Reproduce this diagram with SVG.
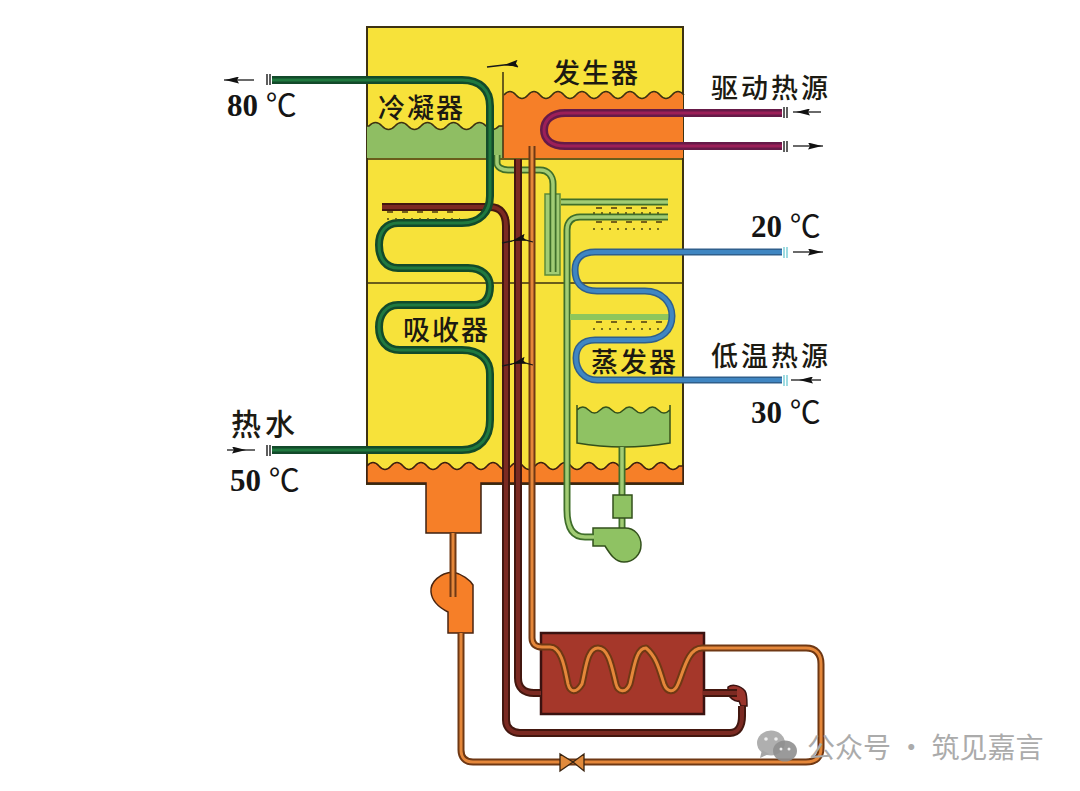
<svg xmlns="http://www.w3.org/2000/svg" xmlns:xlink="http://www.w3.org/1999/xlink" width="1080" height="791" viewBox="0 0 1080 791">
<style>
.lb{font-family:"Noto Sans CJK SC","Noto Sans",sans-serif;fill:#1c1a12;font-size:27px;font-weight:500;letter-spacing:2px}
.tm{font-family:"Liberation Serif","Noto Sans CJK SC",serif;fill:#151515;font-size:31px}
.tm .n{font-weight:700}
.wm{font-family:"Noto Sans CJK SC",sans-serif;fill:#ababab;font-size:28px}
.o,.i{fill:none;stroke-linecap:butt;stroke-linejoin:round}
.gO{stroke:#124a2a;stroke-width:8}.gI{stroke:#20793f;stroke-width:3}
.pO{stroke:#661a48;stroke-width:8}.pI{stroke:#9c1f58;stroke-width:3}
.bO{stroke:#2f5f8c;stroke-width:7}.bI{stroke:#3f86c2;stroke-width:4}
.rO{stroke:#43170f;stroke-width:8}.rI{stroke:#7b2a22;stroke-width:4}
.oO{stroke:#6f3814;stroke-width:7}.oI{stroke:#e5873a;stroke-width:3}
.lO{stroke:#3f6e2a;stroke-width:7}.lI{stroke:#a2cc74;stroke-width:3.5}
.ln{fill:none;stroke:#3d3212;stroke-width:1.500}
.tick{fill:none;stroke:#2a2a2a;stroke-width:1.5}
.flow{fill:none;stroke:#1a1a1a;stroke-width:1.3;marker-mid:url(#ah)}
.spray{fill:none;stroke:#4c4a16;stroke-width:1.6;stroke-dasharray:2 6}
.spray2{fill:none;stroke:#4c3a10;stroke-width:1.6;stroke-dasharray:6 9}
</style>
<defs>
<marker id="ah" viewBox="0 0 14 7" refX="14" refY="3.5" markerWidth="14" markerHeight="7" markerUnits="userSpaceOnUse" orient="auto"><path d="M0 0L14 3.500L0 7L2 3.500Z" fill="#111"/></marker>
<path id="pGreen" d="M272 80H462C480 80 490 90 490 106V196C490 212 480 223 462 223H398C386 223 379 232 379 245C379 259 386 268 398 268H468C482 268 490 276 490 286C490 297 486 305 474 305H398C386 305 379 315 379 327C379 340 386 350 400 350H462C480 350 490 360 490 374V420C490 438 480 450 462 450H272"/>
<path id="pPurple" d="M782 113H565C552 113 544 120 544 130C544 140 552 146 565 146H782"/>
<path id="pBlue" d="M782 252H595C582 252 575 259 575 270C575 283 582 291 597 291H645C662 291 672 303 672 316C672 330 662 340 645 340H595C582 340 576 348 576 358C576 370 584 380 597 380H782"/>
<path id="pBrownA" d="M382 207H490C500 207 506 214 506 226V720C506 728 512 733 520 733H730C738 733 742 726 742 716V706"/>
<path id="pBrownB" d="M518 159V678C518 688 524 693 534 693H541M703 693H737"/>
<path id="pOrange" d="M532 146V638C532 644 536 647 542 647H550C562 647 565 670 568 684C570 692 576 694 582 684C586 668 587 648 598 648C609 648 612 668 616 684C618 692 626 694 630 684C634 668 636 648 646 648C657 657 660 672 664 684C667 692 674 694 678 684C684 670 688 648 702 648H806C816 648 821 654 821 664V748C821 757 816 762 806 762H473C465 762 461 757 461 750V633"/>
<path id="pLightA" d="M497 155V163C497 167 502 170 508 170H540C548 170 553 176 553 184V272"/>
<path id="pLightB" d="M668 217H580C572 217 567 222 567 230V510C567 528 573 537 585 537H594"/>
</defs>

<g id="tank">
<rect x="367" y="27" width="316" height="457" fill="#f7e23a" stroke="#3d3212" stroke-width="2"/>
</g>
<g id="generator">
<path d="M503 95L504 95q6 -7 12 0t12 0t12 0t12 0t12 0t12 0t12 0t12 0t12 0t12 0t12 0t12 0t12 0t12 0t12 0L683 95V158H503Z" fill="#f67f28"/>
<path class="ln" d="M504 95q6 -7 12 0t12 0t12 0t12 0t12 0t12 0t12 0t12 0t12 0t12 0t12 0t12 0t12 0t12 0t12 0"/>
<text class="lb" x="553" y="83">发生器</text>
</g>
<g id="condenser">
<path d="M367 126L369 126q6.500 -7 13 0t13 0t13 0t13 0t13 0t13 0t13 0t13 0t13 0t13 0L503 126V158H367Z" fill="#8fbe63"/>
<path class="ln" d="M367 126L369 126q6.500 -7 13 0t13 0t13 0t13 0t13 0t13 0t13 0t13 0t13 0t13 0L503 126"/>
<text class="lb" x="378" y="118">冷凝器</text>
</g>
<g id="sump">
<path d="M367 466q6 -7 12 0t12 0t12 0t12 0t12 0t12 0t12 0t12 0t12 0t12 0t12 0t12 0t12 0t12 0t12 0t12 0t12 0t12 0t12 0t12 0t12 0t12 0t12 0t12 0t12 0t12 0L683 466V483H481V533H426V483H367Z" fill="#f67f28" stroke="#3d2010" stroke-width="1.500"/>
</g>
<g id="walls">
<path class="ln" d="M367 159H683M367 283H683M503 72V158"/>
</g>
<g id="solution-pump">
<path d="M453 572C462 574 470 580 473 585V633H448V612C440 608 432 602 431 592C430 582 440 573 453 572Z" fill="#f67f28" stroke="#4a2510" stroke-width="1.500"/>
</g>
<g id="heat-exchanger">
<rect x="541" y="633" width="163" height="81" fill="#a5372a" stroke="#3a1210" stroke-width="2.500"/>
</g>
<g id="brown-pump">
<path d="M728 687C732 684 740 685 745 691C747 694 747 702 747 706H741L739 701C734 702 729 697 728 693Z" fill="#9a342b" stroke="#3a1210" stroke-width="1.500"/>
</g>
<g id="evaporator-tray">
<path d="M577 410q5.800 -6 11.600 0t11.600 0t11.600 0t11.600 0t11.600 0t11.600 0t11.600 0t11.600 0V443Q623 451 577 443Z" fill="#8fc263"/>
<path fill="none" stroke="#33501c" stroke-width="1.500" d="M577 405V443Q623 451 670 443V405M577 410q5.800 -6 11.600 0t11.600 0t11.600 0t11.600 0t11.600 0t11.600 0t11.600 0t11.600 0"/>
</g>
<g id="refrigerant-pump">
<path class="lO" fill="none" d="M622 447V528"/><path class="lI" fill="none" d="M622 447V528"/>
<rect x="613" y="495" width="19" height="23" fill="#8fc263" stroke="#33501c" stroke-width="1.500"/>
<path d="M593 528H625C635 528 641 536 641 545C641 555 633 562 624 562C615 562 610 554 605 546H593Z" fill="#8fc263" stroke="#33501c" stroke-width="1.500"/>
</g>
<g id="connectors">
<rect x="545" y="194" width="15" height="81" fill="#a2cc74" stroke="#5d8a3a" stroke-width="1.500"/>
<use href="#pLightA" class="o lO"/><use href="#pLightA" class="i lI"/>
<use href="#pLightB" class="o lO"/><use href="#pLightB" class="i lI"/>
<path class="o lO" d="M561 202H668"/><path class="i lI" d="M561 202H668"/>
<path fill="none" stroke="#8fc65c" stroke-width="6" d="M570 317H672"/>
<use href="#pPurple" class="o pO"/><use href="#pPurple" class="i pI"/>
<use href="#pBrownA" class="o rO"/><use href="#pBrownA" class="i rI"/>
<use href="#pBrownB" class="o rO"/><use href="#pBrownB" class="i rI"/>
<path class="o oO" d="M453 533V597"/><path class="i oI" d="M453 533V597"/>
<use href="#pOrange" class="o oO"/><use href="#pOrange" class="i oI"/>
<use href="#pBlue" class="o bO"/><use href="#pBlue" class="i bI"/>
<use href="#pGreen" class="o gO"/><use href="#pGreen" class="i gI"/>
<path class="spray2" d="M387 212H460M596 208H664M596 222H664M596 322H664"/>
<path class="spray" d="M387 219H460M593 213H663M593 229H663M593 329H663"/>
<path d="M560 754V771L573 762ZM584 754V771L573 762Z" fill="#e08a3c" stroke="#3a2410" stroke-width="1.300"/>
<path class="tick" d="M267 74V85M270 74V85M267 445V456M270 445V456M784 107V118M787 107V118M784 141V152M787 141V152"/>
<path fill="none" stroke="#7fd0d8" stroke-width="1.500" d="M784 247V258M787 247V258M784 375V386M787 375V386"/>
<polyline class="flow" points="254,80 225,80 224,80"/>
<polyline class="flow" points="227,450 246,450 255,450"/>
<polyline class="flow" points="821,112 796,112 793,112"/>
<polyline class="flow" points="793,146 822,146 823,146"/>
<polyline class="flow" points="793,252 822,252 823,252"/>
<polyline class="flow" points="821,380 799,380 791,380"/>
<path class="flow" d="M518 67Q512 64 504 65L487 67"/>
<path class="flow" d="M533 242Q520 238 512 241L502 243"/>
<path class="flow" d="M533 365Q520 361 512 364L502 366"/>
</g>
<g id="labels">
<text class="lb" x="403" y="340">吸收器</text>
<text class="lb" x="591" y="372">蒸发器</text>
<text class="lb" x="711" y="98" style="font-size:27px;letter-spacing:3px">驱动热源</text>
<text class="lb" x="711" y="366" style="font-size:27px;letter-spacing:3px">低温热源</text>
<text class="lb" x="231" y="435" style="font-size:30px;letter-spacing:4px">热水</text>
<text class="tm" x="227" y="116"><tspan class="n">80</tspan> ℃</text>
<text class="tm" x="230" y="491"><tspan class="n">50</tspan> ℃</text>
<text class="tm" x="751" y="237"><tspan class="n">20</tspan> ℃</text>
<text class="tm" x="751" y="423"><tspan class="n">30</tspan> ℃</text>
</g>
<g id="watermark">
<ellipse cx="771" cy="743" rx="14" ry="12.500" fill="#a6a6a6" fill-opacity=".9"/>
<path d="M762 750L760 758L769 754Z" fill="#a6a6a6"/>
<ellipse cx="785" cy="751" rx="12" ry="10.500" fill="#8f8f8f" fill-opacity=".9"/>
<circle cx="766" cy="739" r="1.800" fill="#eee"/><circle cx="776" cy="739" r="1.800" fill="#eee"/>
<circle cx="781" cy="749" r="1.500" fill="#eee"/><circle cx="789" cy="749" r="1.500" fill="#eee"/>
<text class="wm" x="807" y="758">公众号 · 筑见嘉言</text>
</g>
</svg>
